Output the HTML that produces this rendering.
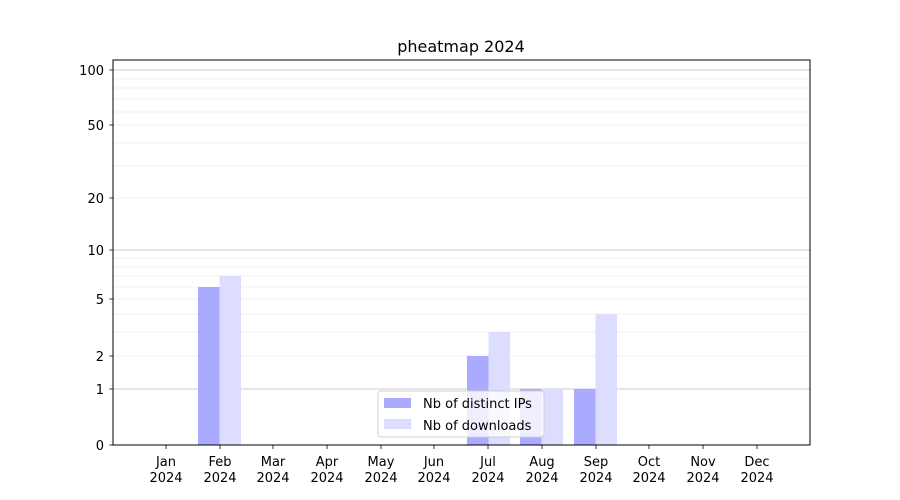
<!DOCTYPE html>
<html><head><meta charset="utf-8"><style>
html,body{margin:0;padding:0;background:#fff;}
svg{display:block;font-family:"DejaVu Sans","Liberation Sans",sans-serif;}
</style></head><body>
<svg width="900" height="500" viewBox="0 0 900 500" xmlns="http://www.w3.org/2000/svg">
<rect width="900" height="500" fill="#fff"/>
<g stroke="#ebebeb" stroke-width="0.8">
<line x1="113" x2="810" y1="356" y2="356"/><line x1="113" x2="810" y1="332" y2="332"/>
<line x1="113" x2="810" y1="314" y2="314"/><line x1="113" x2="810" y1="299" y2="299"/>
<line x1="113" x2="810" y1="287" y2="287"/><line x1="113" x2="810" y1="276" y2="276"/>
<line x1="113" x2="810" y1="267" y2="267"/><line x1="113" x2="810" y1="258" y2="258"/>
<line x1="113" x2="810" y1="198" y2="198"/><line x1="113" x2="810" y1="166" y2="166"/>
<line x1="113" x2="810" y1="143" y2="143"/><line x1="113" x2="810" y1="125" y2="125"/>
<line x1="113" x2="810" y1="112" y2="112"/><line x1="113" x2="810" y1="99" y2="99"/>
<line x1="113" x2="810" y1="88" y2="88"/><line x1="113" x2="810" y1="79" y2="79"/>
</g>
<g stroke="#cccccc" stroke-width="1">
<line x1="113" x2="810" y1="389" y2="389"/><line x1="113" x2="810" y1="250" y2="250"/><line x1="113" x2="810" y1="70" y2="70"/>
</g>
<g fill="#aaaaff">
<rect x="198" y="287" width="21.5" height="158"/>
<rect x="467" y="356" width="21.5" height="89"/>
<rect x="520" y="389" width="21.5" height="56"/>
<rect x="574" y="389" width="21.5" height="56"/>
</g>
<g fill="#ddddff">
<rect x="219.5" y="276" width="21.5" height="169"/>
<rect x="488.5" y="332" width="21.5" height="113"/>
<rect x="541.5" y="389" width="21.5" height="56"/>
<rect x="595.5" y="314" width="21.5" height="131"/>
</g>
<rect x="113" y="60" width="697" height="385" fill="none" stroke="#000" stroke-width="1"/>
<g stroke="#000" stroke-width="0.8">
<line x1="109.5" x2="113" y1="445" y2="445"/><line x1="109.5" x2="113" y1="389" y2="389"/>
<line x1="109.5" x2="113" y1="356" y2="356"/><line x1="109.5" x2="113" y1="299" y2="299"/>
<line x1="109.5" x2="113" y1="250" y2="250"/><line x1="109.5" x2="113" y1="198" y2="198"/>
<line x1="109.5" x2="113" y1="125" y2="125"/><line x1="109.5" x2="113" y1="70" y2="70"/>
</g>
<g font-size="13" text-anchor="end" fill="#000">
<text x="104" y="450">0</text><text x="104" y="394">1</text><text x="104" y="361">2</text>
<text x="104" y="304">5</text><text x="104" y="255">10</text><text x="104" y="203">20</text>
<text x="104" y="130">50</text><text x="104" y="75">100</text>
</g>
<g stroke="#000" stroke-width="0.8">
<line x1="166" x2="166" y1="445" y2="449"/><line x1="220" x2="220" y1="445" y2="449"/>
<line x1="273" x2="273" y1="445" y2="449"/><line x1="327" x2="327" y1="445" y2="449"/>
<line x1="381" x2="381" y1="445" y2="449"/><line x1="434" x2="434" y1="445" y2="449"/>
<line x1="488" x2="488" y1="445" y2="449"/><line x1="542" x2="542" y1="445" y2="449"/>
<line x1="596" x2="596" y1="445" y2="449"/><line x1="649" x2="649" y1="445" y2="449"/>
<line x1="703" x2="703" y1="445" y2="449"/><line x1="757" x2="757" y1="445" y2="449"/>
</g>
<g font-size="13" text-anchor="middle" fill="#000">
<text x="166" y="466">Jan</text><text x="166" y="482">2024</text>
<text x="220" y="466">Feb</text><text x="220" y="482">2024</text>
<text x="273" y="466">Mar</text><text x="273" y="482">2024</text>
<text x="327" y="466">Apr</text><text x="327" y="482">2024</text>
<text x="381" y="466">May</text><text x="381" y="482">2024</text>
<text x="434" y="466">Jun</text><text x="434" y="482">2024</text>
<text x="488" y="466">Jul</text><text x="488" y="482">2024</text>
<text x="542" y="466">Aug</text><text x="542" y="482">2024</text>
<text x="596" y="466">Sep</text><text x="596" y="482">2024</text>
<text x="649" y="466">Oct</text><text x="649" y="482">2024</text>
<text x="703" y="466">Nov</text><text x="703" y="482">2024</text>
<text x="757" y="466">Dec</text><text x="757" y="482">2024</text>
</g>
<text x="461" y="52" font-size="16" text-anchor="middle">pheatmap 2024</text>
<rect x="378" y="391" width="166" height="46" rx="3" fill="#fff" fill-opacity="0.8" stroke="#d0d0d0"/>
<rect x="384" y="398" width="27" height="10" fill="#aaaaff"/>
<rect x="384" y="419" width="27" height="10" fill="#ddddff"/>
<text x="423" y="408" font-size="13">Nb of distinct IPs</text>
<text x="423" y="430" font-size="13">Nb of downloads</text>
</svg>
</body></html>
